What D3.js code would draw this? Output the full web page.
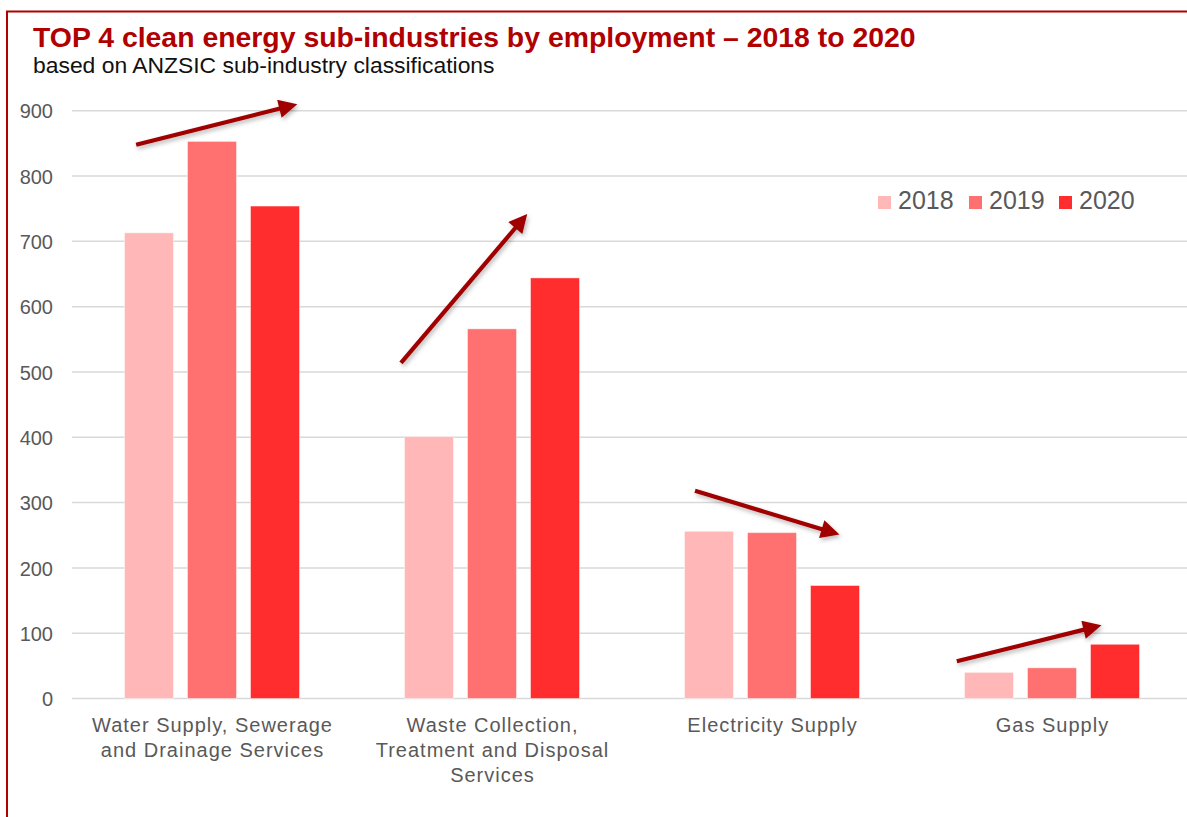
<!DOCTYPE html>
<html><head><meta charset="utf-8">
<script src="https://cdn.jsdelivr.net/npm/d3@7"></script>
<style>
html,body{margin:0;padding:0;background:#fff;overflow:hidden;}
svg{display:block;}
</style></head>
<body>
<svg id="chart" width="1187" height="817"></svg>
<script>
// ---- data ----
const categories = [
  ["Water Supply, Sewerage", "and Drainage Services"],
  ["Waste Collection,", "Treatment and Disposal", "Services"],
  ["Electricity Supply"],
  ["Gas Supply"]
];
const categoryKeys = ["Water", "Waste", "Electricity", "Gas"];
const years = ["2018", "2019", "2020"];
const values2018 = [713, 401, 256, 40];
const values2019 = [853, 566, 254, 47];
const values2020 = [754, 644, 173, 83];
const yTicks = [0, 100, 200, 300, 400, 500, 600, 700, 800, 900];
const colors = ["#FFB7B7", "#FF7171", "#FF2D2D"];
// trend arrows: [start band fraction, start value, end band fraction, end value]
const arrowStartFrac = [0.229, 0.175, 0.225, 0.160];
const arrowStartVal  = [848, 514, 318, 57];
const arrowEndFrac   = [0.814, 0.632, 0.750, 0.686];
const arrowEndVal    = [911, 745, 250, 113];

const title = "TOP 4 clean energy sub-industries by employment \u2013 2018 to 2020";
const subtitle = "based on ANZSIC sub-industry classifications";

const series = [values2018, values2019, values2020];

const svg = d3.select("#chart");
const defs = svg.append("defs");
const f = defs.append("filter").attr("id","shadow").attr("x","-20%").attr("y","-50%").attr("width","140%").attr("height","200%");
f.append("feDropShadow").attr("dx",1.5).attr("dy",2.5).attr("stdDeviation",2).attr("flood-color","#000").attr("flood-opacity",0.28);
defs.append("marker").attr("id","arrowhead")
  .attr("viewBox","0 0 10 10").attr("refX",2).attr("refY",5)
  .attr("markerWidth",5.2).attr("markerHeight",4.4).attr("orient","auto")
  .attr("markerUnits","strokeWidth")
  .append("path").attr("d","M0,0 L10,5 L0,10 z").attr("fill","#A00000");

// border
svg.append("rect").attr("x",7).attr("y",11.5).attr("width",1200).attr("height",820)
  .attr("fill","none").attr("stroke","#B00000").attr("stroke-width",2);

// scales
const x0 = d3.scaleBand().domain(categoryKeys).range([72, 1192]).padding(0);
const x1 = d3.scaleBand().domain(years).range([0, x0.bandwidth()]).paddingInner(0.222).paddingOuter(0.833);
const y = d3.scaleLinear().domain([0, 900]).range([698.5, 110.7]);

// gridlines
svg.append("g").selectAll("line").data(yTicks).join("line")
  .attr("x1",72).attr("x2",1192)
  .attr("y1",d=>y(d)).attr("y2",d=>y(d))
  .attr("stroke","#D9D9D9").attr("stroke-width",1.5);

// y axis labels
const yAxis = d3.axisLeft(y).tickValues(yTicks).tickSize(0).tickPadding(0);
const yg = svg.append("g").attr("transform","translate(53,0)").call(yAxis);
yg.select(".domain").remove();
yg.selectAll("text").attr("font-family","Liberation Sans, Arial, sans-serif")
  .attr("font-size",20).attr("fill","#595959").attr("dy","0.36em");

// bars
const groups = svg.append("g").selectAll("g").data(categoryKeys).join("g")
  .attr("transform", d => `translate(${x0(d)},0)`);
groups.selectAll("rect").data((d,i)=> years.map((yr,j)=>({yr, v: series[j][i], j})))
  .join("rect")
  .attr("x", d=>x1(d.yr)).attr("width", x1.bandwidth())
  .attr("y", d=>y(d.v)).attr("height", d=>y(0)-y(d.v))
  .attr("fill", d=>colors[d.j])
  .attr("stroke","#ffffff").attr("stroke-opacity",0.45).attr("stroke-width",1);

// category labels
const lab = svg.append("g").selectAll("text").data(categoryKeys).join("text")
  .attr("x", d=>x0(d)+x0.bandwidth()/2)
  .attr("y", 732)
  .attr("text-anchor","middle")
  .attr("font-family","Liberation Sans, Arial, sans-serif")
  .attr("font-size",20).attr("fill","#595959").attr("letter-spacing",1.0);
lab.each(function(d,i){
  const t = d3.select(this);
  categories[i].forEach((line,k)=>{
    t.append("tspan").attr("x", x0(d)+x0.bandwidth()/2 + 0.5).attr("y", 732 + k*25).text(line);
  });
});

// arrows
const ag = svg.append("g").attr("filter","url(#shadow)");
categoryKeys.forEach((k,i)=>{
  const bw = x0.bandwidth();
  ag.append("line")
    .attr("x1", x0(k)+arrowStartFrac[i]*bw).attr("y1", y(arrowStartVal[i]))
    .attr("x2", x0(k)+arrowEndFrac[i]*bw).attr("y2", y(arrowEndVal[i]))
    .attr("stroke","#A00000").attr("stroke-width",4.2)
    .attr("marker-end","url(#arrowhead)");
});
// shorten lines so arrowhead tip lands at end point
ag.selectAll("line").each(function(){
  const l = d3.select(this);
  const x1v=+l.attr("x1"), y1v=+l.attr("y1"), x2v=+l.attr("x2"), y2v=+l.attr("y2");
  const len = Math.hypot(x2v-x1v,y2v-y1v);
  const cut = 5.2*4.2*0.8;
  l.attr("x2", x2v-(x2v-x1v)/len*cut).attr("y2", y2v-(y2v-y1v)/len*cut);
});

// legend
const legX = [878, 969, 1059];
const lg = svg.append("g");
years.forEach((yr,j)=>{
  lg.append("rect").attr("x",legX[j]).attr("y",196).attr("width",13).attr("height",13).attr("fill",colors[j]);
  lg.append("text").attr("x",legX[j]+20).attr("y",209).text(yr)
    .attr("font-family","Liberation Sans, Arial, sans-serif").attr("font-size",25).attr("fill","#595959");
});

// titles
const tt = svg.append("text").attr("x",33).attr("y",46.5).text(title)
  .attr("font-family","Liberation Sans, Arial, sans-serif").attr("font-weight","bold")
  .attr("font-size",24).attr("fill","#B00000");
let w = tt.node().getComputedTextLength();
tt.attr("font-size", 24*883/w);
const st = svg.append("text").attr("x",33).attr("y",72.5).text(subtitle)
  .attr("font-family","Liberation Sans, Arial, sans-serif")
  .attr("font-size",19).attr("fill","#111");
w = st.node().getComputedTextLength();
st.attr("font-size", 19*462/w);
</script>
</body></html>
